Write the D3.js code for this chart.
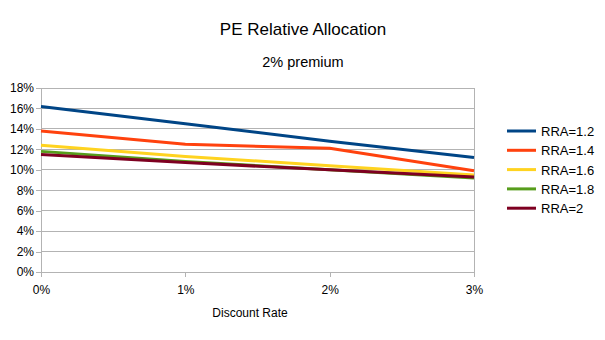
<!DOCTYPE html>
<html>
<head>
<meta charset="utf-8">
<script src="https://cdn.jsdelivr.net/npm/d3@7"></script>
<style>
  body { margin: 0; background: #fff; }
  svg { font-family: "Liberation Sans", Arial, sans-serif; }
</style>
</head>
<body>
<div id="chart"></div>
<script>
// discount rates on the x axis
const rates = [0, 0.01, 0.02, 0.03];
const seriesNames = ["RRA=1.2", "RRA=1.4", "RRA=1.6", "RRA=1.8", "RRA=2"];
const seriesColors = ["#004586", "#ff420e", "#ffd320", "#579d1c", "#7e0021"];
// allocation values per RRA level
const rra12 = [0.162, 0.145, 0.128, 0.112];
const rra14 = [0.138, 0.125, 0.121, 0.099];
const rra16 = [0.124, 0.113, 0.104, 0.095];
const rra18 = [0.118, 0.108, 0.100, 0.092];
const rra20 = [0.115, 0.107, 0.100, 0.093];
const yTicks = [0, 0.02, 0.04, 0.06, 0.08, 0.10, 0.12, 0.14, 0.16, 0.18];

const allSeries = [rra12, rra14, rra16, rra18, rra20];

const W = 605, H = 340;
const margin = {left: 41, right: 131, top: 88, bottom: 68};
const width = W - margin.left - margin.right,
      height = H - margin.top - margin.bottom;

const svg = d3.select("#chart").append("svg")
    .attr("width", W).attr("height", H);

// titles
svg.append("text").attr("x", 303).attr("y", 35)
    .attr("text-anchor", "middle").attr("font-size", 17).attr("fill", "#000")
    .text("PE Relative Allocation");
svg.append("text").attr("x", 303).attr("y", 67)
    .attr("text-anchor", "middle").attr("font-size", 14.5).attr("fill", "#000")
    .text("2% premium");

const g = svg.append("g")
    .attr("transform", `translate(${margin.left},${margin.top})`);

const x = d3.scaleLinear().domain([0, 0.03]).range([0, width]);
const y = d3.scaleLinear().domain([0, 0.18]).range([height, 0]);

// horizontal gridlines
g.append("g").selectAll("line").data(yTicks).join("line")
    .attr("x1", 0).attr("x2", width)
    .attr("y1", d => y(d)).attr("y2", d => y(d))
    .attr("stroke", "#b3b3b3").attr("stroke-width", 1)
    .attr("shape-rendering", "crispEdges");

// right border of plot area
g.append("line").attr("x1", width).attr("x2", width)
    .attr("y1", 0).attr("y2", height)
    .attr("stroke", "#b3b3b3").attr("shape-rendering", "crispEdges");

const yAxis = g.append("g")
    .call(d3.axisLeft(y).tickValues(yTicks).tickFormat(d3.format(".0%")).tickSize(5).tickPadding(2));
const xAxis = g.append("g").attr("transform", `translate(0,${height})`)
    .call(d3.axisBottom(x).tickValues(rates).tickFormat(d3.format(".0%")).tickSize(5).tickPadding(8));

[yAxis, xAxis].forEach(a => {
  a.selectAll("path, line").attr("stroke", "#b3b3b3").attr("shape-rendering", "crispEdges");
  a.selectAll("text").attr("font-size", 12).attr("fill", "#000")
      .attr("font-family", "'Liberation Sans', Arial, sans-serif");
});

svg.append("text").attr("x", 250).attr("y", 317)
    .attr("text-anchor", "middle").attr("font-size", 12).attr("fill", "#000")
    .text("Discount Rate");

const line = d3.line().x((d, i) => x(rates[i])).y(d => y(d));

g.append("g").selectAll("path").data(allSeries).join("path")
    .attr("d", line)
    .attr("fill", "none")
    .attr("stroke", (d, i) => seriesColors[i])
    .attr("stroke-width", 3)
    .attr("stroke-linejoin", "round");

// legend
const legend = svg.append("g").attr("transform", "translate(507,131)");
const item = legend.selectAll("g").data(seriesNames).join("g")
    .attr("transform", (d, i) => `translate(0,${i * 19.3})`);
item.append("line").attr("x1", 0).attr("x2", 29).attr("y1", 0).attr("y2", 0)
    .attr("stroke", (d, i) => seriesColors[i]).attr("stroke-width", 3);
item.append("text").attr("x", 34).attr("y", 5)
    .attr("font-size", 13).attr("fill", "#000").text(d => d);
</script>
</body>
</html>
